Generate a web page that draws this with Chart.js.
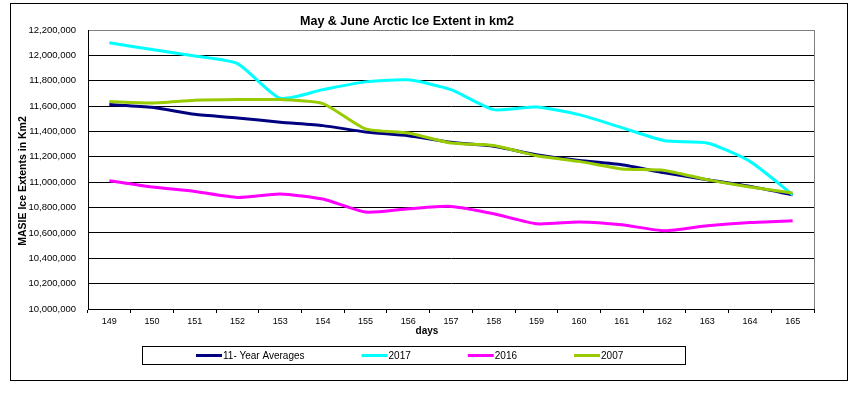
<!DOCTYPE html>
<html>
<head>
<meta charset="utf-8">
<script src="https://cdn.jsdelivr.net/npm/chart.js@4.4.1/dist/chart.umd.min.js"></script>
<style>
  html, body { margin: 0; padding: 0; background: #fff; }
  canvas { display: block; }
</style>
</head>
<body>
<canvas id="iceChart" width="854" height="394"></canvas>
<script>
const days = ['149', '150', '151', '152', '153', '154', '155', '156', '157', '158', '159', '160', '161', '162', '163', '164', '165'];
const avg11 = [11612000, 11590000, 11535000, 11507000, 11472000, 11446000, 11396000, 11367000, 11314000, 11283000, 11217000, 11172000, 11138000, 11074000, 11020000, 10967000, 10901000];
const ice2017 = [12099000, 12046000, 11995000, 11935000, 11662000, 11730000, 11791000, 11807000, 11730000, 11572000, 11593000, 11533000, 11430000, 11327000, 11309000, 11164000, 10901000];
const ice2016 = [11012000, 10962000, 10927000, 10880000, 10907000, 10867000, 10764000, 10790000, 10809000, 10751000, 10672000, 10686000, 10664000, 10617000, 10656000, 10682000, 10696000];
const ice2007 = [11636000, 11625000, 11646000, 11651000, 11651000, 11620000, 11420000, 11388000, 11309000, 11290000, 11209000, 11164000, 11104000, 11093000, 11020000, 10962000, 10914000];

const font = 'Arial, "Liberation Sans", sans-serif';
let ctx = document.getElementById('iceChart').getContext('2d');

// frame, axis titles and boxed legend like the Excel original
const extras = {
    id: 'extras',
    beforeDraw(chart) {
        const c = chart.ctx;
        c.save();
        c.fillStyle = '#fff';
        c.fillRect(0, 0, chart.width, chart.height);
        c.restore();
    },
    afterDraw(chart) {
        const c = chart.ctx;
        const a = chart.chartArea;
        c.save();
        c.strokeStyle = '#000';
        c.lineWidth = 1;
        c.strokeRect(10.5, 3.5, 837, 377);

        // right edge of plot area is grey
        c.strokeStyle = '#808080';
        c.beginPath();
        c.moveTo(Math.round(a.right) + 0.5, a.top);
        c.lineTo(Math.round(a.right) + 0.5, a.bottom);
        c.stroke();

        c.fillStyle = '#000';
        c.font = 'bold 10px ' + font;
        c.textAlign = 'center';
        c.textBaseline = 'middle';
        c.fillText('days', 427, 331);

        c.save();
        c.translate(23, 181);
        c.rotate(-Math.PI / 2);
        c.font = 'bold 10.5px ' + font;
        c.fillText('MASIE Ice Extents in Km2', 0, 0);
        c.restore();

        // legend
        c.strokeStyle = '#000';
        c.strokeRect(142.5, 346.5, 543, 18);
        c.font = '10px ' + font;
        c.textAlign = 'left';
        let x = 196;
        chart.data.datasets.forEach((ds) => {
            c.strokeStyle = ds.borderColor;
            c.lineWidth = 3;
            c.beginPath();
            c.moveTo(x, 355.5);
            c.lineTo(x + 26, 355.5);
            c.stroke();
            c.fillStyle = '#000';
            c.fillText(ds.label, x + 27, 356);
            x += 27 + c.measureText(ds.label).width + 57;
        });
        c.restore();
    },
};

new Chart(ctx, {
    type: 'line',
    data: {
        labels: days,
        datasets: [
            { label: '11- Year Averages', data: avg11, borderColor: '#000080', order: 4 },
            { label: '2017', data: ice2017, borderColor: '#00FFFF', order: 3 },
            { label: '2016', data: ice2016, borderColor: '#FF00FF', order: 2 },
            { label: '2007', data: ice2007, borderColor: '#99CC00', order: 1 },
        ],
    },
    options: {
        responsive: false,
        animation: false,
        datasets: {
            line: {
                borderWidth: 3,
                pointRadius: 0,
                tension: 0.2,
                fill: false,
            },
        },
        layout: {
            padding: { top: 0, right: 40, bottom: 55, left: 0 },
        },
        plugins: {
            legend: { display: false },
            tooltip: { enabled: false },
            title: {
                display: true,
                text: 'May & June Arctic Ice Extent in km2',
                color: '#000',
                font: { family: font, size: 12.5, weight: 'bold' },
                padding: { top: 14, bottom: 1 },
            },
        },
        scales: {
            x: {
                offset: true,
                grid: {
                    offset: true,
                    drawOnChartArea: false,
                    drawTicks: true,
                    tickLength: 4,
                    color: '#000',
                },
                border: { color: '#000', width: 1 },
                ticks: {
                    color: '#000',
                    font: { family: font, size: 9 },
                    maxRotation: 0,
                    autoSkip: false,
                    padding: 3,
                },
                afterFit(scale) {
                    scale.height = 30;
                },
            },
            y: {
                min: 10000000,
                max: 12200000,
                grid: {
                    drawTicks: false,
                    color: (c) => (c.tick && c.tick.value === 12200000 ? '#808080' : '#000'),
                },
                border: { color: '#000', width: 1 },
                ticks: {
                    stepSize: 200000,
                    color: '#000',
                    font: { family: font, size: 9.5 },
                    padding: 12,
                    callback: (v) => v.toLocaleString('en-US'),
                },
                afterFit(scale) {
                    scale.width = 88;
                },
            },
        },
    },
    plugins: [extras],
});
</script>
</body>
</html>
